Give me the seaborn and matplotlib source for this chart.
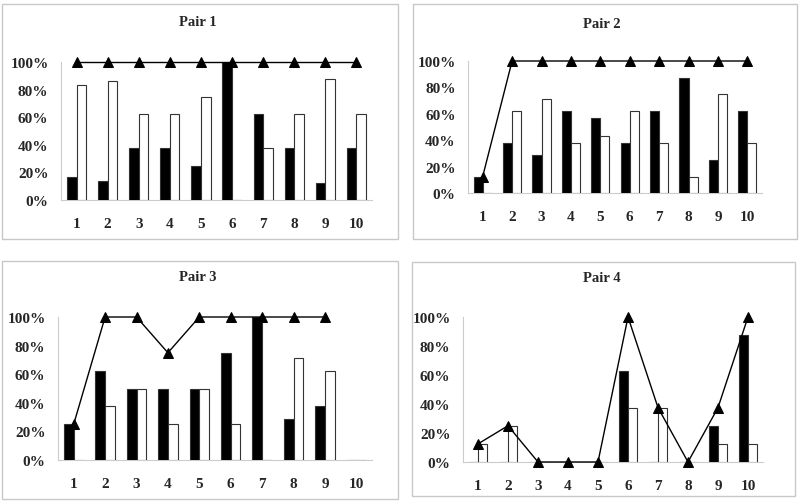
import pandas as pd
import matplotlib.pyplot as plt
import matplotlib.patches as mpatches
from matplotlib.ticker import FuncFormatter
import seaborn as sns
import numpy as np

categories = [str(i) for i in range(1, 11)]
titles = ['Pair 1', 'Pair 2', 'Pair 3', 'Pair 4']

black_vals = [
    [17, 14, 38, 38, 25, 100, 62.5, 38, 12.5, 38],
    [12.5, 38, 29, 62.5, 57, 38, 62.5, 87.5, 25, 62.5],
    [25, 62.5, 50, 50, 50, 75, 100, 29, 38, 0],
    [0, 0, 0, 0, 0, 62.5, 0, 0, 25, 87.5],
]
white_vals = [
    [83, 86, 62.5, 62.5, 75, 0, 38, 62.5, 88, 62.5],
    [0, 62.5, 71, 38, 43, 62.5, 38, 12.5, 75, 38],
    [0, 38, 50, 25, 50, 25, 0, 71, 62, 0],
    [12.5, 25, 0, 0, 0, 37.5, 37.5, 0, 12.5, 12.5],
]
line_vals = [
    [100, 100, 100, 100, 100, 100, 100, 100, 100, 100],
    [12.5, 100, 100, 100, 100, 100, 100, 100, 100, 100],
    [25, 100, 100, 75, 100, 100, 100, 100, 100, np.nan],
    [12.5, 25, 0, 0, 0, 100, 37.5, 0, 37.5, 100],
]

sns.set_style('white')
plt.rcParams['font.family'] = ['Liberation Serif', 'DejaVu Serif']
plt.rcParams['font.weight'] = 'bold'

W, H = 800, 502
fig = plt.figure(figsize=(8, 5.02), dpi=100)

# pixel boxes: (left, top, right, bottom)
axes_px = [(61, 63, 372, 201), (468, 62, 762, 194), (58, 318, 372, 461), (463, 318, 763, 463)]
frame_px = [(2, 5, 398, 240), (413, 5, 797, 240), (2, 262, 398, 500), (412, 263, 795, 497)]
title_px = [(198, 23), (602, 24), (198, 278), (602, 279)]

pct = FuncFormatter(lambda v, p: f'{v:.0f}%')

for i in range(4):
    fl, ft, fr, fb = frame_px[i]
    fig.patches.append(mpatches.Rectangle((fl / W, 1 - fb / H), (fr - fl) / W, (fb - ft) / H,
                                          transform=fig.transFigure, fill=False,
                                          edgecolor='#c8c8c8', linewidth=1))
    l, t, r, b = axes_px[i]
    ax = fig.add_axes([l / W, 1 - b / H, (r - l) / W, (b - t) / H])

    df = pd.DataFrame({
        'cat': categories * 2,
        'series': ['a'] * 10 + ['b'] * 10,
        'val': black_vals[i] + white_vals[i],
    })
    sns.barplot(data=df, x='cat', y='val', hue='series', order=categories,
                palette=['black', 'white'], width=0.62, edgecolor='#333333',
                linewidth=0.8, legend=False, ax=ax, saturation=1)
    ln = pd.DataFrame({'cat': categories, 'val': line_vals[i]}).dropna()
    sns.pointplot(data=ln, x='cat', y='val', order=categories, color='black',
                  markers='^', markersize=6.5, linewidth=1, errorbar=None, ax=ax)
    for art in ax.lines + ax.collections:
        art.set_clip_on(False)
        art.set_zorder(5)

    ax.set_ylim(0, 100)
    ax.set_xlim(-0.5, 9.5)
    ax.set_yticks([0, 20, 40, 60, 80, 100])
    ax.yaxis.set_major_formatter(pct)
    ax.set_xlabel('')
    ax.set_ylabel('')
    for s in ['top', 'right']:
        ax.spines[s].set_visible(False)
    for s in ['left', 'bottom']:
        ax.spines[s].set_color('#cccccc')
        ax.spines[s].set_linewidth(0.8)
        ax.spines[s].set_zorder(0)
    ax.tick_params(axis='y', length=3, color='#cccccc', pad=6, labelsize=11)
    ax.tick_params(axis='x', length=0, pad=12, labelsize=11)
    for lab in ax.get_xticklabels() + ax.get_yticklabels():
        lab.set_fontweight('bold')
    ax.patch.set_alpha(0)

    tx, ty = title_px[i]
    fig.text(tx / W, 1 - ty / H, titles[i], ha='center', va='center',
             fontsize=10.5, fontweight='bold')

fig.savefig('out.png', dpi=100)
